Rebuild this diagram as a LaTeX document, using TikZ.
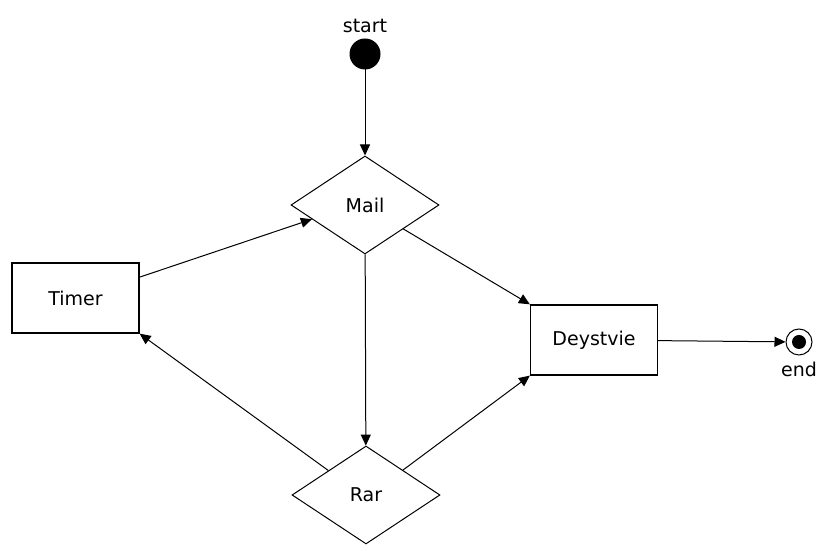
\documentclass[tikz,border=0pt]{standalone}
\usepackage{fontspec}
\setmainfont{DejaVu Sans}
\usetikzlibrary{arrows.meta,shapes.geometric,positioning}

\begin{document}
\begin{tikzpicture}[x=1pt,y=1pt,>={Triangle[length=11pt,width=10pt]},line width=1pt,
    font=\fontsize{19}{22}\selectfont,
    box/.style={draw,rectangle,line width=1.3pt,minimum width=127pt,minimum height=70pt,inner sep=0pt},
    choice/.style={draw,diamond,aspect=1.5,minimum width=148pt,minimum height=98pt,inner sep=0pt},
    initstate/.style={draw,circle,fill=black,minimum size=30pt,inner sep=0pt},
    finalstate/.style={draw,circle,minimum size=26pt,inner sep=0pt,
        path picture={\fill (path picture bounding box.center) circle (7pt);}}]
    \useasboundingbox (0,0) rectangle (819,545);

    \node[initstate, label={[label distance=2pt]above:start}] (start) at (365,491) {};
    \node[choice] (mail) at (365,340) {Mail};
    \node[box] (timer) at (75.5,247) {Timer};
    \node[box] (deystvie) at (594,205) {Deystvie};
    \node[choice] (rar) at (366,50) {Rar};
    \node[finalstate, label={[label distance=3pt]below:end}] (end) at (799,203) {};

    \draw[->] (start) -- (mail);
    \draw[->] (timer.18) -- (mail.195);
    \draw[->] (mail.-32) -- (deystvie.north west);
    \draw[->] (mail) -- (rar);
    \draw[->] (rar.147) -- (timer.south east);
    \draw[->] (rar.34) -- (deystvie.south west);
    \draw[->] (deystvie) -- (end);
\end{tikzpicture}
\end{document}
